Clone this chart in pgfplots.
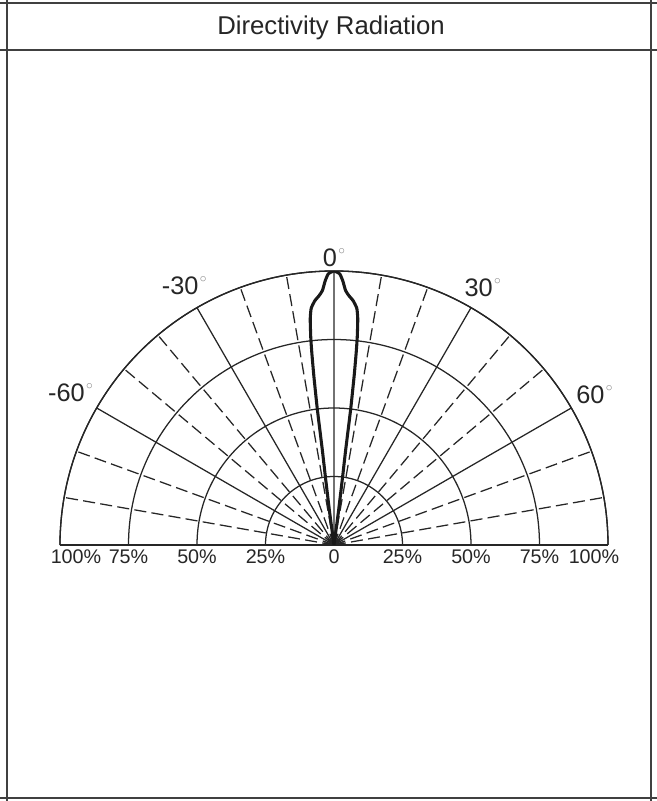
\documentclass[border=0pt]{standalone}
\usepackage{fontspec}
\setmainfont{Liberation Sans}
\usepackage{pgfplots}
\pgfplotsset{compat=1.18}
\usepgfplotslibrary{polar}
\newcommand{\dg}{\kern1pt\raisebox{9pt}{\textcolor{black!50}{\fontsize{10}{10}\selectfont$\circ$}}}
\begin{document}
\begin{tikzpicture}[x=0.75pt,y=0.75pt]
\useasboundingbox (0,0) rectangle (657,801);
\draw[line width=1.3pt, black!75] (0,798) -- (657,798);
\draw[line width=1.3pt, black!75] (0,751) -- (657,751);
\draw[line width=1.3pt, black!75] (0,3) -- (657,3);
\draw[line width=1.3pt, black!75] (7,0) -- (7,801);
\draw[line width=1.3pt, black!75] (651,0) -- (651,801);
\node[font=\fontsize{19.3}{23}\selectfont, black!85] at (331,773) {Directivity Radiation};
\begin{polaraxis}[
  at={(250.5pt,192pt)}, anchor=south,
  scale only axis, width=411pt, height=411pt,
  xmin=0, xmax=180, ymin=0, ymax=100,
  xtick={0,30,...,180},
  xticklabels={,60\dg,30\dg,0\dg,-30\dg,-60\dg,},
  minor xtick={10,20,40,50,70,80,100,110,130,140,160,170},
  ytick={25,50,75,100},
  yticklabels={},
  xmajorgrids, xminorgrids, ymajorgrids,
  major grid style={line width=0.95pt, black!85},
  minor grid style={line width=0.95pt, black!85, dash pattern=on 9pt off 4pt},
  axis line style={line width=1pt, black!85},
  major tick length=0pt, minor tick length=0pt,
  xticklabel style={font=\fontsize{19}{22}\selectfont, black!85},
]
\addplot[line width=2.3pt, black!90, line join=round, smooth, tension=0.3] coordinates {
(98,0)(97.6,12)(97.2,25)(97.0,35)(97.0,50)(96.8,62)(96.6,70)(96.4,76)(96.0,83)(95.5,86.8)(94.5,89.4)(93.4,91.2)(92.6,93)(91.9,96.5)(91.2,99)(90,100)(88.8,99)(88.1,96.5)(87.4,93)(86.6,91.2)(85.5,89.4)(84.5,86.8)(84,83)(83.6,76)(83.4,70)(83.2,62)(83,50)(83,35)(82.8,25)(82.4,12)(82,0)
};
\end{polaraxis}
\begin{axis}[
  at={(250.5pt,192pt)}, anchor=south,
  scale only axis, width=411pt, height=205.5pt,
  xmin=-100, xmax=100, ymin=0, ymax=100,
  axis x line*=bottom, hide y axis,
  x axis line style={draw=none},
  xtick={-100,-75,...,100},
  xticklabels={\hspace*{24pt}100\%,75\%,50\%,25\%,0,25\%,50\%,75\%,100\%\hspace*{21pt}},
  major tick length=0pt,
  xticklabel style={font=\fontsize{14.8}{17}\selectfont, black!85},
]
\end{axis}
\end{tikzpicture}
\end{document}
